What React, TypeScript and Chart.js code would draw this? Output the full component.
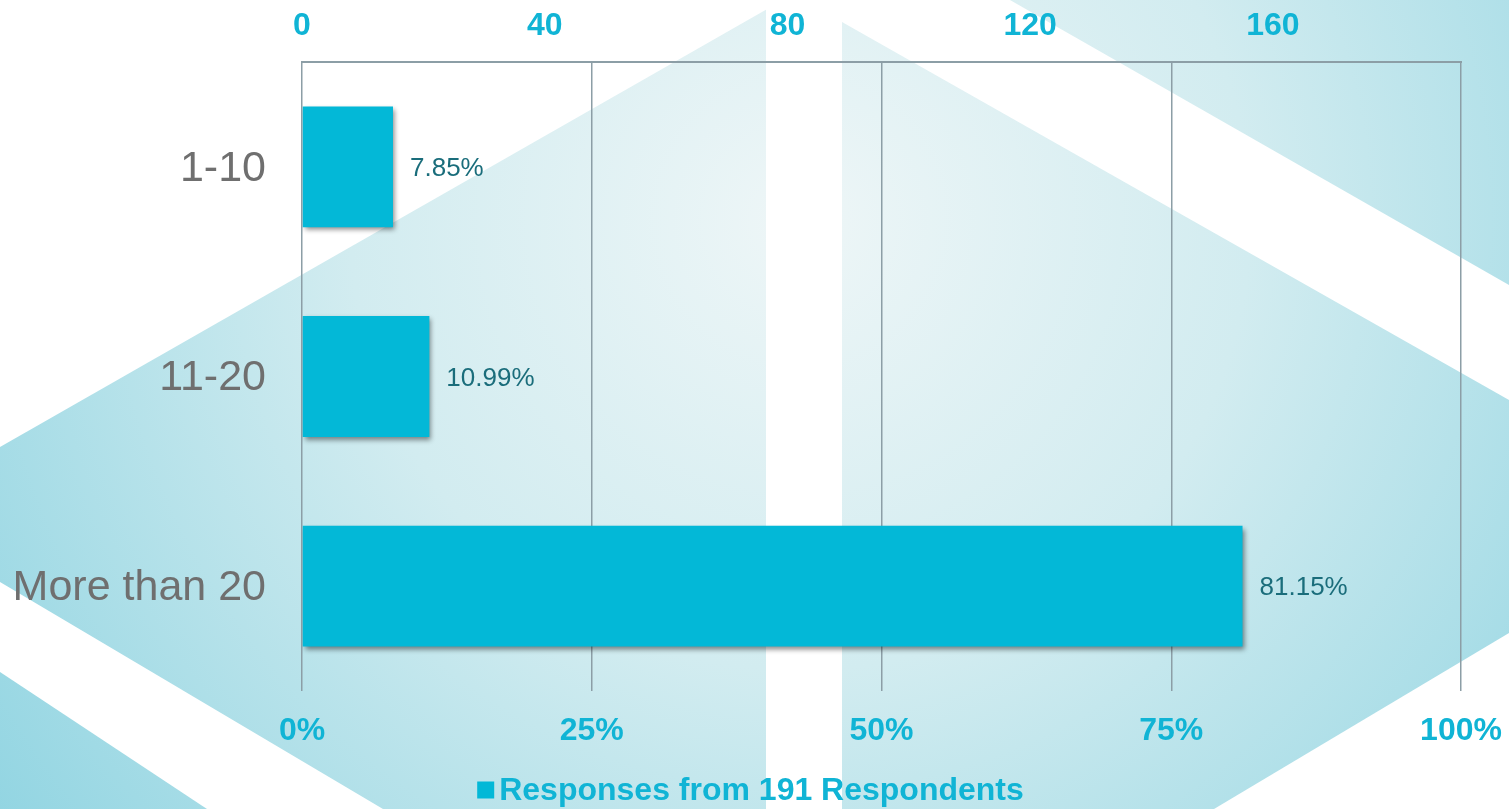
import React, { useEffect, useRef } from "react";
import { Chart, registerables } from "chart.js";

Chart.register(...registerables);

// ---- data ----
const categories = ["1-10", "11-20", "More than 20"];
const percentValues = [7.85, 10.99, 81.15];
const respondents = 191;
const countTicks = [0, 40, 80, 120, 160];
const percentTicks = [0, 25, 50, 75, 100];
const seriesLabel = "Responses from 191 Respondents";

// ---- styles ----
const FONT = "'Liberation Sans', Arial, Helvetica, sans-serif";
const CYAN = "#03b8d7";
const TICK_CYAN = "#10b4d5";
const GRID = "#8c9ea6";

const backgroundPlugin = {
  id: "bgDecor",
  beforeDraw(chart: any) {
    const { ctx, width: w, height: h } = chart;
    const sx = w / 1509;
    const sy = h / 809;
    ctx.save();
    const g = ctx.createRadialGradient(800 * sx, 220 * sy, 0, 800 * sx, 220 * sy, 1000 * sx);
    g.addColorStop(0, "#eef6f7");
    g.addColorStop(0.45, "#d2ecf0");
    g.addColorStop(1, "#92d5e2");
    ctx.fillStyle = g;
    ctx.fillRect(0, 0, w, h);
    const poly = (pts: number[][], fill: string) => {
      ctx.beginPath();
      pts.forEach(([x, y], i) => {
        if (i === 0) ctx.moveTo(x * sx, y * sy);
        else ctx.lineTo(x * sx, y * sy);
      });
      ctx.closePath();
      ctx.fillStyle = fill;
      ctx.fill();
    };
    poly([[0, 0], [783, 0], [0, 447]], "#ffffff");
    poly([[766, 0], [842, 0], [842, 809], [766, 809]], "#ffffff");
    poly([[842, 0], [1010, 0], [1509, 285], [1509, 400], [842, 22]], "#ffffff");
    poly([[0, 582], [383, 809], [207, 809], [0, 672]], "#ffffff");
    poly([[1509, 633], [1509, 809], [1214, 809]], "#ffffff");
    ctx.restore();
  },
};

const barDecorPlugin = {
  id: "barDecor",
  beforeDatasetsDraw(chart: any) {
    const ctx = chart.ctx;
    ctx.save();
    ctx.shadowColor = "rgba(0,0,0,0.45)";
    ctx.shadowBlur = 5;
    ctx.shadowOffsetX = 2;
    ctx.shadowOffsetY = 3;
  },
  afterDatasetsDraw(chart: any) {
    const ctx = chart.ctx;
    ctx.restore();
    const meta = chart.getDatasetMeta(0);
    ctx.save();
    ctx.font = `26px ${FONT}`;
    ctx.fillStyle = "#1a6d7b";
    ctx.textAlign = "left";
    ctx.textBaseline = "middle";
    meta.data.forEach((bar: any, i: number) => {
      const v = chart.data.datasets[0].data[i] as number;
      ctx.fillText(v.toFixed(2) + "%", bar.x + 17, bar.y + 2);
    });
    ctx.restore();
  },
};

const legendPlugin = {
  id: "customLegend",
  afterDraw(chart: any) {
    const ds = chart.data.datasets[0];
    const ctx = chart.ctx;
    ctx.save();
    ctx.font = `bold 32px ${FONT}`;
    const text = ds.label as string;
    const tw = ctx.measureText(text).width;
    const box = 17;
    const gap = 5;
    const total = box + gap + tw;
    const x0 = chart.width / 2 - total / 2 - 4;
    const cy = chart.height - 18;
    ctx.fillStyle = ds.backgroundColor;
    ctx.fillRect(x0, cy - box / 2 - 1, box, box);
    ctx.fillStyle = TICK_CYAN;
    ctx.textAlign = "left";
    ctx.textBaseline = "middle";
    ctx.fillText(text, x0 + box + gap, cy);
    ctx.restore();
  },
};

export default function App() {
  const canvasRef = useRef<HTMLCanvasElement | null>(null);

  useEffect(() => {
    document.body.style.margin = "0";
    const canvas = canvasRef.current;
    if (!canvas) return;
    const chart = new Chart(canvas, {
      type: "bar",
      data: {
        labels: categories,
        datasets: [
          {
            label: seriesLabel,
            data: percentValues,
            backgroundColor: CYAN,
            borderWidth: 0,
            xAxisID: "x",
            categoryPercentage: 0.8,
            barPercentage: 0.72,
          },
        ],
      },
      options: {
        indexAxis: "y",
        animation: false,
        responsive: true,
        maintainAspectRatio: false,
        layout: { padding: { left: 0, right: 48, top: 0, bottom: 48 } },
        scales: {
          y: {
            position: "left",
            grid: { display: false, drawTicks: false },
            border: { display: false },
            ticks: {
              color: "#6f6f6f",
              font: { family: FONT, size: 43 },
              padding: 36,
              labelOffset: 2,
            },
            afterFit: (scale: any) => {
              scale.width = 302;
            },
          },
          x: {
            type: "linear",
            position: "bottom",
            min: 0,
            max: 100,
            grid: { display: true, color: GRID, lineWidth: 1.5, drawTicks: false },
            border: { display: false },
            afterBuildTicks: (scale: any) => {
              scale.ticks = percentTicks.map((v) => ({ value: v }));
            },
            ticks: {
              color: TICK_CYAN,
              font: { family: FONT, size: 32, weight: "bold" },
              padding: 21,
              maxRotation: 0,
              callback: (v: any) => `${v}%`,
            },
            afterFit: (scale: any) => {
              scale.height = 70;
              scale.paddingLeft = 0;
              scale.paddingRight = 0;
            },
          },
          x2: {
            type: "linear",
            axis: "x",
            position: "top",
            min: 0,
            max: respondents,
            grid: { display: false, drawTicks: false },
            border: { display: true, color: GRID, width: 2 },
            afterBuildTicks: (scale: any) => {
              scale.ticks = countTicks.map((v) => ({ value: v }));
            },
            ticks: {
              color: TICK_CYAN,
              font: { family: FONT, size: 32, weight: "bold" },
              padding: 17,
              maxRotation: 0,
            },
            afterFit: (scale: any) => {
              scale.height = 62;
              scale.paddingLeft = 0;
              scale.paddingRight = 0;
            },
          },
        },
        plugins: {
          legend: { display: false },
          tooltip: { enabled: false },
        },
      },
      plugins: [backgroundPlugin, barDecorPlugin, legendPlugin],
    } as any);
    return () => chart.destroy();
  }, []);

  return (
    <div style={{ position: "fixed", left: 0, top: 0, width: 1509, height: 809 }}>
      <canvas ref={canvasRef} />
    </div>
  );
}
